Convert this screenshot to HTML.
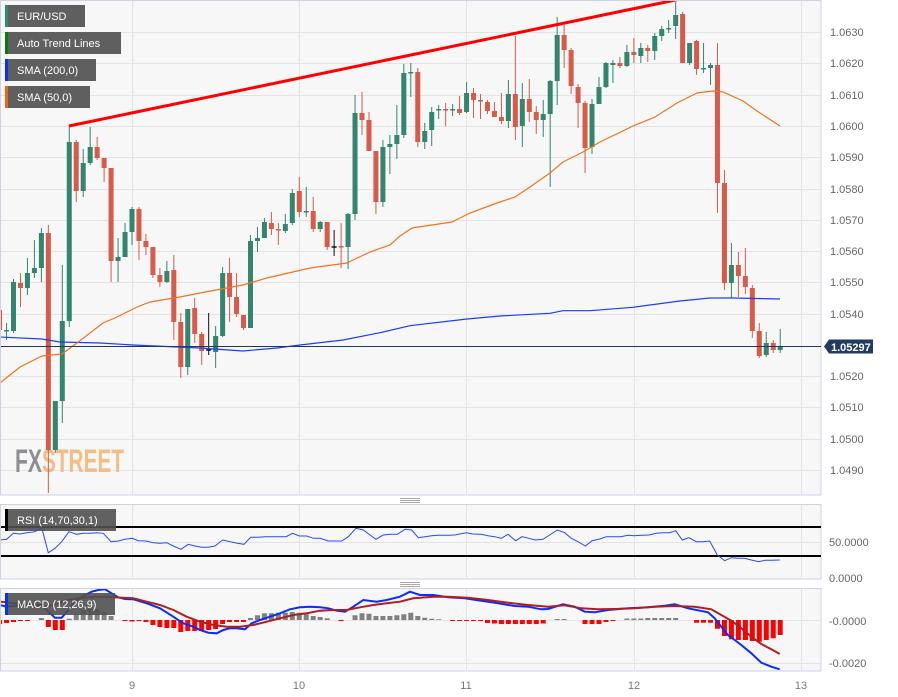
<!DOCTYPE html>
<html><head><meta charset="utf-8"><style>
html,body{margin:0;padding:0;background:#fff;}
svg{display:block;font-family:"Liberation Sans",sans-serif;}
</style></head><body>
<svg width="898" height="697" viewBox="0 0 898 697" xmlns="http://www.w3.org/2000/svg">
<defs>
<clipPath id="mc"><rect x="1" y="1" width="820" height="494"/></clipPath>
<clipPath id="rc"><rect x="1" y="505" width="820" height="74"/></clipPath>
<clipPath id="mac"><rect x="1" y="589" width="820" height="82"/></clipPath>
</defs>
<rect width="898" height="697" fill="#fff"/>
<!-- main panel -->
<rect x="0.5" y="0.5" width="820.5" height="494.5" fill="#f7f7f7" stroke="#cdd3e3"/>
<g stroke="#e3e3e3" stroke-width="1">
<path d="M1 32.5H821M1 63.5H821M1 95.5H821M1 126.5H821M1 157.5H821M1 189.5H821M1 220.5H821M1 251.5H821M1 282.5H821M1 314.5H821M1 376.5H821M1 407.5H821M1 439.5H821M1 470.5H821"/>
<path d="M132.5 1V494M299.5 1V494M466.5 1V494M634.5 1V494M801.5 1V494"/>
</g>
<text x="15" y="472" font-size="32" font-weight="bold" fill="#8e8f94" textLength="27" lengthAdjust="spacingAndGlyphs" font-family="Liberation Sans Narrow, Liberation Sans, sans-serif">FX</text>
<text x="42" y="472" font-size="32" font-weight="bold" fill="#f3be85" textLength="82" lengthAdjust="spacingAndGlyphs" font-family="Liberation Sans Narrow, Liberation Sans, sans-serif">STREET</text>
<g clip-path="url(#mc)">
<!-- green wicks -->
<path stroke="#33856f" stroke-width="1" fill="none" d="M6.54 323V340M13.51 279V333M27.45 258V295M34.42 240V278M41.39 228V282M55.33 401V453M62.3 265V423M69.27 125V327M83.21 149V197M90.18 127V165M118.06 238V282M125.03 223V257M132 207V245M166.85 261V283M187.76 309V375M215.64 326V368M222.61 267V337M250.49 235V328M257.46 227V252M264.43 218V238M285.34 214V233M292.31 189V225M306.25 187V217M320.19 221V232M348.07 213V269M355.04 95V220M382.92 140V207M389.89 135V174M396.86 105V159M403.83 64V138M410.8 63V97M424.74 123V149M431.71 107V146M438.68 105V119M452.62 104V116M466.56 82V113M508.38 80V128M522.32 83V147M543.23 100V137M550.2 80V187M557.17 17V105M592.02 99V154M598.99 77V104M605.96 62V88M612.93 60V83M626.87 45V67M640.81 43V63M654.75 33V60M661.72 26V41M668.69 20V33M675.66 2V39M689.6 43V65M703.54 43V73M710.51 63V85M731.42 243V298M766.27 332V357M780.21 329V353"/>
<!-- green bodies -->
<path fill="#33856f" d="M4.04 330h5v1.5h-5zM11.01 282h5v49h-5zM24.95 273h5v15h-5zM31.92 268h5v5h-5zM38.89 233h5v35h-5zM52.83 401h5v49h-5zM59.8 321h5v80h-5zM66.77 142h5v179h-5zM80.71 163h5v28h-5zM87.68 147h5v16h-5zM115.56 257h5v4h-5zM122.53 232h5v25h-5zM129.5 209h5v23h-5zM164.35 271h5v11h-5zM185.26 309h5v58h-5zM213.14 336h5v16h-5zM220.11 273h5v63h-5zM247.99 241h5v87h-5zM254.96 238h5v3h-5zM261.93 222h5v16h-5zM282.84 224h5v7h-5zM289.81 193h5v30h-5zM303.75 211h5v1.5h-5zM317.69 222h5v7h-5zM345.57 214h5v33h-5zM352.54 113h5v101h-5zM380.42 147h5v55h-5zM387.39 144h5v3h-5zM394.36 135h5v9h-5zM401.33 73h5v62h-5zM408.3 72h5v1.5h-5zM422.24 131h5v11h-5zM429.21 112h5v18h-5zM436.18 109h5v1.5h-5zM450.12 109h5v1.5h-5zM464.06 93h5v19h-5zM505.88 94h5v27h-5zM519.82 99h5v27h-5zM540.73 114h5v6h-5zM547.7 81h5v33h-5zM554.67 35h5v46h-5zM589.52 104h5v43h-5zM596.49 87h5v17h-5zM603.46 63h5v24h-5zM610.43 63h5v2h-5zM624.37 52h5v14h-5zM638.31 48h5v8h-5zM652.25 36h5v15h-5zM659.22 29h5v7h-5zM666.19 28h5v1.5h-5zM673.16 15h5v11h-5zM687.1 43h5v20h-5zM701.04 68h5v1.5h-5zM708.01 65h5v3h-5zM728.92 265h5v18h-5zM763.77 343h5v12h-5zM777.71 347h5v3h-5z"/>
<!-- red wicks -->
<path stroke="#d75b4a" stroke-width="1" fill="none" d="M-0.43 305V332M20.48 273V307M48.36 225V493M76.24 140V202M97.15 137V160M104.12 158V182M111.09 168V282M138.97 207V260M145.94 234V255M152.91 247V278M159.88 268V287M173.82 255V340M180.79 313V378M194.73 298V343M201.7 332V365M229.58 258V322M236.55 273V317M243.52 315V330M271.4 212V235M278.37 223V245M299.28 177V217M313.22 197V232M327.16 222V250M341.1 223V268M362.01 92V135M368.98 112V151M375.95 151V214M417.77 68V147M445.65 103V126M459.59 96V115M473.53 88V118M480.5 94V119M487.47 100V114M494.44 102V117M501.41 93V124M515.35 36V140M529.29 79V122M536.26 106V134M564.14 25V68M571.11 48V94M578.08 84V128M585.05 101V173M619.9 57V68M633.84 38V63M647.78 45V62M682.63 12V63M696.57 40V75M717.48 43V213M724.45 170V290M738.39 252V297M745.36 248V294M752.33 285V338M759.3 323V358M773.24 340V353"/>
<!-- red bodies -->
<path fill="#d75b4a" d="M-2.93 310h5v20h-5zM17.98 283h5v5h-5zM45.86 233h5v217h-5zM73.74 142h5v49h-5zM94.65 147h5v11h-5zM101.62 158h5v10h-5zM108.59 168h5v93h-5zM136.47 209h5v32h-5zM143.44 241h5v6h-5zM150.41 247h5v28h-5zM157.38 275h5v7h-5zM171.32 270h5v52h-5zM178.29 322h5v45h-5zM192.23 308h5v26h-5zM199.2 334h5v17h-5zM227.08 273h5v24h-5zM234.05 297h5v17h-5zM241.02 315h5v13h-5zM268.9 223h5v6h-5zM275.87 229h5v1.5h-5zM296.78 191h5v21h-5zM310.72 211h5v18h-5zM324.66 222h5v25h-5zM338.6 246h5v1.5h-5zM359.51 113h5v7h-5zM366.48 120h5v31h-5zM373.45 151h5v51h-5zM415.27 72h5v70h-5zM443.15 109h5v1.5h-5zM457.09 109h5v4h-5zM471.03 93h5v7h-5zM478 100h5v1.5h-5zM484.97 102h5v9h-5zM491.94 111h5v6h-5zM498.91 117h5v4h-5zM512.85 94h5v33h-5zM526.79 99h5v13h-5zM533.76 112h5v8h-5zM561.64 35h5v15h-5zM568.61 50h5v36h-5zM575.58 87h5v16h-5zM582.55 103h5v45h-5zM617.4 63h5v3h-5zM631.34 52h5v3h-5zM645.28 48h5v3h-5zM680.13 14h5v49h-5zM694.07 41h5v28h-5zM714.98 65h5v118h-5zM721.95 183h5v100h-5zM735.89 265h5v11h-5zM742.86 276h5v11h-5zM749.83 288h5v43h-5zM756.8 331h5v25h-5zM770.74 343h5v7h-5z"/>
<!-- black dojis -->
<path stroke="#111" stroke-width="1" fill="none" d="M208.67 313V355M334.13 230V256"/>
<path stroke="#111" stroke-width="1.5" fill="none" d="M206.17 350H211.17M331.63 247H336.63"/>
<!-- SMA 200 -->
<polyline fill="none" stroke="#1a3cff" stroke-width="1.2" points="0,337 42,339 60,342 100,343 133,345 200,348 243,351 277,348 300,345 343,340 380,332.7 410,325.7 467,319 500,316 550,313.3 563,310.7 590,310.7 633,307.3 680,301 710,298 733,298 780,299"/>
<!-- SMA 50 -->
<polyline fill="none" stroke="#ee7420" stroke-width="1.2" points="0,383 20,367 42,356 62,354 77,343 103,323 117,317 137,307 150,302 180,297 200,293 243,285 267,278 310,268 347,263 353,260 370,252 390,245 400,236 412,228 452,222 470,213 497,203 515,197 530,187 550,173 563,162 583,152 600,142 633,126 655,117 677,103 697,93 713,91 723,92 743,101 757,111 780,126"/>
<!-- price line -->
<path d="M0 346.5H821" stroke="#1e3865" stroke-width="1"/>
<!-- trend line -->
<path d="M69 126L690 -3" stroke="#ff0000" stroke-width="3" fill="none"/>
</g>
<!-- legend boxes -->
<g font-size="11" fill="#fff">
<rect x="5" y="5" width="80" height="22" fill="#5f5f5f"/><rect x="5" y="5" width="3" height="22" fill="#2e8b73"/>
<text x="17" y="20">EUR/USD</text>
<rect x="5" y="32" width="116" height="22" fill="#5f5f5f"/><rect x="5" y="32" width="3" height="22" fill="#0a7a0a"/>
<text x="17" y="47">Auto Trend Lines</text>
<rect x="5" y="59" width="91" height="22" fill="#5f5f5f"/><rect x="5" y="59" width="3" height="22" fill="#0033ff"/>
<text x="17" y="74">SMA (200,0)</text>
<rect x="5" y="86" width="85" height="22" fill="#5f5f5f"/><rect x="5" y="86" width="3" height="22" fill="#e8690e"/>
<text x="17" y="101">SMA (50,0)</text>
</g>
<!-- price axis labels -->
<g font-size="11" fill="#666">
<text x="830" y="36">1.0630</text>
<text x="830" y="67">1.0620</text>
<text x="830" y="99">1.0610</text>
<text x="830" y="130">1.0600</text>
<text x="830" y="161">1.0590</text>
<text x="830" y="193">1.0580</text>
<text x="830" y="224">1.0570</text>
<text x="830" y="255">1.0560</text>
<text x="830" y="286">1.0550</text>
<text x="830" y="318">1.0540</text>
<text x="830" y="380">1.0520</text>
<text x="830" y="411">1.0510</text>
<text x="830" y="443">1.0500</text>
<text x="830" y="474">1.0490</text>
</g>
<polygon points="824,346.5 829,339.5 873,339.5 873,353.5 829,353.5" fill="#213b63"/>
<text x="831" y="351" font-size="11" font-weight="bold" fill="#fff">1.05297</text>
<!-- handles -->
<path d="M400 498.5H420M400 500.5H420M400 502.5H420M400 582.5H420M400 584.5H420M400 586.5H420" stroke="#8a8a8a" stroke-width="0.8"/>
<!-- RSI panel -->
<rect x="0.5" y="504.5" width="820.5" height="74.5" fill="#f7f7f7" stroke="#cdd3e3"/>
<g stroke="#e3e3e3"><path d="M1 542.5H821M132.5 505V578M299.5 505V578M466.5 505V578M634.5 505V578M801.5 505V578"/></g>
<g clip-path="url(#rc)">
<path d="M0 527H821M0 556H821" stroke="#000" stroke-width="2"/>
<polyline fill="none" stroke="#2848ff" stroke-width="1" points="0,540 6.7,539.3 13.3,533.3 20,534 26.7,532.7 35,531.7 41.7,527.7 48.3,552.7 55,548.3 61.7,541.7 69,531.7 76.7,534.3 83.3,533.3 90,533.3 96.7,532.7 103.3,533.3 111,541.7 118.3,541 125,539.3 132.3,538.3 138.3,540.7 146,541 153.3,542.7 160,543.3 166.7,542.7 173.3,546 181,549.3 188.3,544.3 195,546 201.7,547.3 208.3,547.3 215,546 222.7,540 230,541.7 237.3,543.3 244,544.3 250.7,537.3 258.3,537.3 265,536.7 271.7,536.7 278.3,536.7 286,536.7 292.7,533.3 299.3,536 306.7,536 313.3,538.3 320,538.3 328.3,541 335,541 341.7,541 348.3,536.7 356,528.3 363.3,530 370,535 376,539.3 383.3,535 390.7,534.3 397.3,534.3 405,529.3 411.7,530 418.3,537.7 425,536.7 431.7,535.7 438.3,535.3 448,535.3 454.7,535 466.3,532.7 473,534 481.3,534.3 488,535.7 494.7,536.7 501.3,538.3 508,534.3 515.7,540.7 522,536.7 528.7,538.3 535.3,540 543,539.3 549.7,535 557.3,530 564.7,532.7 571.3,538.3 578,541.7 585.3,546 592,540.7 599.7,539 606.3,536.7 613.7,536.7 620.7,536.7 628,535.3 634.7,535.7 642,535.3 649,535 656.3,533.3 663,532.7 669.7,532.7 675.7,530.7 682.3,540 689,537.7 696.3,541.7 703,541.7 709.7,541 717.3,555 724.7,560.7 731.3,557.7 738,558.3 744.7,558.3 751.3,560 758.7,561.7 765.3,560.3 772,560.3 779.7,560"/>
</g>
<rect x="5" y="509" width="111" height="22" fill="#505050" fill-opacity="0.9"/><rect x="5" y="509" width="3" height="22" fill="#000"/>
<text x="17" y="524" font-size="11" fill="#fff">RSI (14,70,30,1)</text>
<g font-size="11" fill="#666"><text x="829" y="546">50.0000</text><text x="829" y="582">0.0000</text></g>
<!-- MACD panel -->
<rect x="0.5" y="588.5" width="820.5" height="82.5" fill="#f7f7f7" stroke="#cdd3e3"/>
<g stroke="#e3e3e3"><path d="M1 620.5H821M1 663.5H821M132.5 589V670M299.5 589V670M466.5 589V670M634.5 589V670M801.5 589V670"/></g>
<g clip-path="url(#mac)">
<path fill="#ff0000" d="M-2.93 620h5v4h-5zM4.04 620h5v3h-5zM11.01 620h5v2h-5zM17.98 620h5v1h-5zM24.95 620h5v1h-5zM45.86 620h5v7h-5zM52.83 620h5v10h-5zM59.8 620h5v10h-5zM122.53 620h5v1h-5zM129.5 620h5v1.5h-5zM136.47 620h5v1h-5zM143.44 620h5v2h-5zM150.41 620h5v5h-5zM157.38 620h5v7h-5zM164.35 620h5v8h-5zM171.32 620h5v8h-5zM178.29 620h5v12h-5zM185.26 620h5v11h-5zM192.23 620h5v11h-5zM199.2 620h5v11h-5zM206.17 620h5v10h-5zM213.14 620h5v9h-5zM220.11 620h5v4h-5zM227.08 620h5v2h-5zM234.05 620h5v2h-5zM241.02 620h5v2h-5zM338.6 620h5v1h-5zM450.12 620h5v1h-5zM457.09 620h5v1h-5zM464.06 620h5v1h-5zM471.03 620h5v1h-5zM478 620h5v1h-5zM484.97 620h5v3h-5zM491.94 620h5v3.5h-5zM498.91 620h5v4h-5zM505.88 620h5v4h-5zM512.85 620h5v4h-5zM519.82 620h5v4h-5zM526.79 620h5v4h-5zM533.76 620h5v4h-5zM540.73 620h5v3.5h-5zM582.55 620h5v4h-5zM589.52 620h5v4h-5zM596.49 620h5v4h-5zM603.46 620h5v2h-5zM610.43 620h5v1h-5zM694.07 620h5v2.7h-5zM701.04 620h5v2.7h-5zM708.01 620h5v2.7h-5zM714.98 620h5v8.7h-5zM721.95 620h5v16h-5zM728.92 620h5v19.3h-5zM735.89 620h5v20h-5zM742.86 620h5v20h-5zM749.83 620h5v21h-5zM756.8 620h5v21.7h-5zM763.77 620h5v20h-5zM770.74 620h5v18.3h-5zM777.71 620h5v15h-5z"/>
<path fill="#808080" d="M38.89 618h5v2h-5zM66.77 618.7h5v1.3h-5zM73.74 614.3h5v5.7h-5zM80.71 610h5v10h-5zM87.68 609h5v11h-5zM94.65 609h5v11h-5zM101.62 612h5v8h-5zM108.59 616h5v4h-5zM247.99 618h5v2h-5zM254.96 615.3h5v4.7h-5zM261.93 613.3h5v6.7h-5zM268.9 613.3h5v6.7h-5zM275.87 612.7h5v7.3h-5zM282.84 612.7h5v7.3h-5zM289.81 612h5v8h-5zM296.78 612.7h5v7.3h-5zM303.75 614.3h5v5.7h-5zM310.72 616h5v4h-5zM317.69 617h5v3h-5zM324.66 618.3h5v1.7h-5zM352.54 615.3h5v4.7h-5zM359.51 613.3h5v6.7h-5zM366.48 613.7h5v6.3h-5zM373.45 616h5v4h-5zM380.42 616h5v4h-5zM387.39 616h5v4h-5zM394.36 615.3h5v4.7h-5zM401.33 614.3h5v5.7h-5zM408.3 612.7h5v7.3h-5zM415.27 616h5v4h-5zM422.24 617.7h5v2.3h-5zM429.21 618.7h5v1.3h-5zM436.18 619.3h5v0.7h-5zM554.67 619h5v1h-5zM561.64 619h5v1h-5zM624.37 618.5h5v1.5h-5zM631.34 618.5h5v1.5h-5zM638.31 618.5h5v1.5h-5zM645.28 618h5v2h-5zM652.25 618h5v2h-5zM659.22 618h5v2h-5zM666.19 618h5v2h-5zM673.16 618h5v2h-5z"/>
<polyline fill="none" stroke="#0a2cff" stroke-width="2" points="0,605 6.7,606.7 20,605 33.3,604.3 41.7,605 48.3,611.7 55,617.7 61.7,617.7 68.3,610 75,601.7 83.3,596 91.7,591.7 98.3,590 105,589.3 111.7,593.3 118.3,597.3 125,599 133.3,599.3 146.7,603.3 160,608.3 173.3,616.7 183.3,623.3 193.3,626.7 200,630 208.3,632.7 216.7,633.3 223.3,630 230,628.3 236.7,628.3 245,629.3 251.7,623.3 260,620 270,616.7 280,613.3 290,609.3 300,607.3 310,606.7 320,607.3 328.3,608.3 336.7,610.7 345,611.7 353.3,606.7 363.3,600 376.7,601.7 386.7,600 400,596.7 410,591.7 420,595 433.3,595 448,597.3 464.7,598.3 481.3,600.7 498,603.3 514.7,606 528,606.7 541.3,609.3 548,609 563,604.3 574.7,606.7 584.7,611.7 594.7,612.3 608,610 628,608.3 648,607.3 664.7,605.7 674.7,604.3 688,608.3 708,612.3 714.7,618.3 721.3,626.7 728,635 734.7,640 741.3,645 751.3,653.3 761.3,662.7 771.3,666.7 779.7,669.3"/>
<polyline fill="none" stroke="#b01e1e" stroke-width="2" points="0,601.7 16.7,603.3 33.3,605 43.3,606.7 53.3,605 66.7,600 86.7,597.3 100,596.7 113.3,597.3 133.3,598.3 146.7,601.7 160,605 173.3,610 186.7,616.7 200,621.7 213.3,625 226.7,626.7 240,626.7 253.3,625 266.7,621.7 280,618.3 293.3,615 306.7,613.3 320,610.7 333.3,610 346.7,610 360,607.3 373.3,605 386.7,603.3 400,601.7 413.3,598.3 433.3,596.7 448,596.7 468,597.7 488,600 508,602.7 528,605 548,606.7 564.7,605.3 581.3,608.3 598,609.3 614.7,609 634.7,608.3 654.7,606.7 674.7,606 694.7,606.7 711.3,609.3 721.3,615 731.3,620.7 741.3,628.3 751.3,636.7 761.3,644 771.3,649.3 779.7,654"/>
</g>
<rect x="5" y="593" width="110" height="22" fill="#505050" fill-opacity="0.9"/><rect x="5" y="593" width="3" height="22" fill="#0033ff"/>
<text x="17" y="608" font-size="11" fill="#fff">MACD (12,26,9)</text>
<g font-size="11" fill="#666"><text x="829" y="625">-0.0000</text><text x="829" y="667">-0.0020</text></g>
<!-- x axis -->
<g font-size="11" fill="#777" text-anchor="middle">
<text x="132" y="689">9</text><text x="299" y="689">10</text><text x="466" y="689">11</text><text x="634" y="689">12</text><text x="801" y="689">13</text>
</g>
</svg>
</body></html>
